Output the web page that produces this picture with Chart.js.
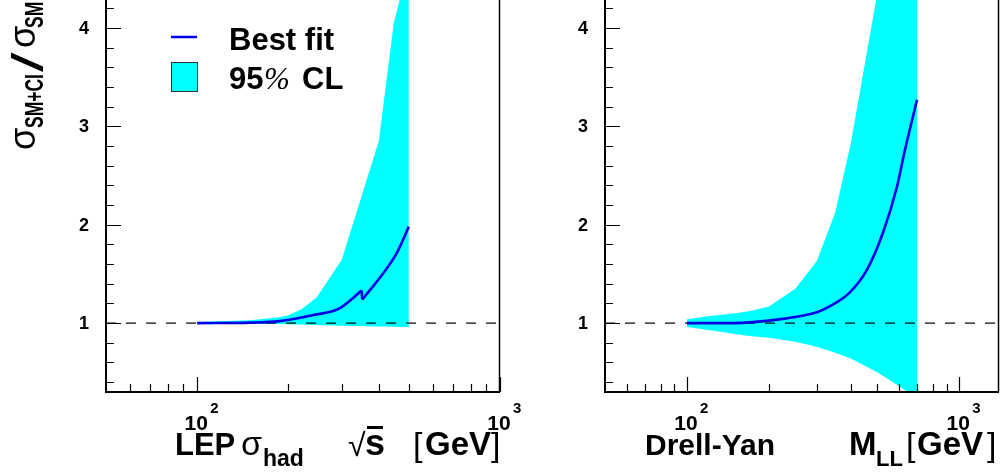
<!DOCTYPE html>
<html>
<head>
<meta charset="UTF-8">
<title>sigma SM+CI / sigma SM</title>
<script src="https://cdn.jsdelivr.net/npm/chart.js@4.4.0/dist/chart.umd.min.js"></script>
<style>
    body, html { margin: 0; padding: 0; background: #fff; }
    .wrap { position: relative; width: 1002px; height: 472px; overflow: hidden; }
    .wrap canvas { position: absolute; left: 0; top: 0; }
</style>
</head>
<body>
<div class="wrap">
    <canvas id="lepChart" width="1002" height="472"></canvas>
    <canvas id="dyChart" width="1002" height="472"></canvas>
</div>
<script>
// ---- LEP panel ----
const lepFitX  = [100, 150, 187, 240, 295, 349, 351, 401, 456, 500];
const lepFitY  = [1.0, 1.005, 1.02, 1.08, 1.15, 1.33, 1.24, 1.46, 1.71, 1.98];
const lepKink = 6;   // best fit jumps down between index 5 and 6
const lepBandX  = [100, 150, 187, 200, 221, 248, 300, 398, 446, 500];
const lepBandHi = [1.01, 1.03, 1.06, 1.08, 1.14, 1.26, 1.64, 2.85, 4.05, 4.65];
const lepBandLo = [0.995, 0.993, 0.99, 0.988, 0.985, 0.98, 0.972, 0.966, 0.963, 0.96];

// ---- Drell-Yan panel ----
const dyFitX  = [100, 150, 200, 259, 300, 334, 396, 458, 525, 590, 632, 700];
const dyFitY  = [1.0, 1.0, 1.025, 1.07, 1.11, 1.17, 1.31, 1.54, 1.92, 2.38, 2.76, 3.27];
const dyBandX  = [100, 120, 150, 169, 200, 250, 300, 350, 400, 500, 600, 650, 700];
const dyBandHi = [1.04, 1.07, 1.10, 1.12, 1.17, 1.35, 1.63, 2.12, 2.83, 4.35, 6.0, 7.0, 8.0];
const dyBandLo = [0.96, 0.93, 0.89, 0.87, 0.85, 0.81, 0.76, 0.70, 0.64, 0.50, 0.36, 0.30, 0.22];

// axes
const yRange = [0.3, 4.283];
const yMajor = [1, 2, 3, 4];
const yMinorStep = 0.2;
const lepXRange = [50, 1000];
const dyXRange = [50, 1400];
const xMajor = [100, 1000];
const xMinor = [60, 70, 80, 90, 200, 300, 400, 500, 600, 700, 800, 900];
const xMajorExp = ['2', '3'];
const refLevel = 1;

const SANS = '"Liberation Sans", Arial, Helvetica, sans-serif';
const BAND = '#00ffff';
const FIT = '#0000e6';

function pts(xs, ys) { return xs.map((x, i) => ({ x: x, y: ys[i] })); }

// ROOT-like frame: inward ticks, axis lines, tick labels
const rootFrame = {
    id: 'rootFrame',
    afterDatasetsDraw(chart) {
        const ctx = chart.ctx;
        const a = chart.chartArea;
        const xs = chart.scales.x, ys = chart.scales.y;
        ctx.save();
        ctx.strokeStyle = '#000';
        ctx.lineWidth = 2;
        ctx.beginPath();
        ctx.moveTo(a.left, a.top); ctx.lineTo(a.left, a.bottom); ctx.lineTo(a.right, a.bottom);
        ctx.stroke();
        ctx.lineWidth = 1.5;
        ctx.beginPath();
        ctx.moveTo(a.right - 0.5, a.top); ctx.lineTo(a.right - 0.5, a.bottom);
        ctx.stroke();
        ctx.lineWidth = 1.2;
        ctx.beginPath();
        for (let v = 0.4; v < yRange[1]; v += yMinorStep) {
            const r = Math.round(v * 10) / 10;
            const len = yMajor.includes(r) ? 15 : 8;
            const py = Math.round(ys.getPixelForValue(r)) + 0.5;
            ctx.moveTo(a.left, py); ctx.lineTo(a.left + len, py);
        }
        xMinor.concat(xMajor).forEach(v => {
            if (v < xs.min || v > xs.max) return;
            const len = xMajor.includes(v) ? 15 : 8;
            const px = Math.round(xs.getPixelForValue(v)) + 0.5;
            ctx.moveTo(px, a.bottom); ctx.lineTo(px, a.bottom - len);
        });
        ctx.stroke();
        ctx.fillStyle = '#000';
        // y labels
        ctx.font = 'bold 18px ' + SANS;
        ctx.textAlign = 'right';
        ctx.textBaseline = 'middle';
        yMajor.forEach(v => ctx.fillText(String(v), a.left - 17, ys.getPixelForValue(v) + 1));
        // x labels 10^n
        ctx.textBaseline = 'alphabetic';
        xMajor.forEach((v, i) => {
            const px = xs.getPixelForValue(v);
            ctx.font = 'bold 21px ' + SANS;
            ctx.textAlign = 'center';
            ctx.fillText('10', px - 1, 430);
            ctx.font = 'bold 15px ' + SANS;
            ctx.textAlign = 'left';
            ctx.fillText(xMajorExp[i], px + 13, 413);
        });
        ctx.restore();
    }
};

// parts: text, font, x, y, optional horizontal squeeze
function drawText(ctx, parts) {
    parts.forEach(p => {
        ctx.save();
        ctx.font = p.f;
        ctx.translate(p.x, p.y);
        if (p.sx) ctx.scale(p.sx, 1);
        ctx.fillText(p.t, 0, 0);
        ctx.restore();
    });
}

const lepDecor = {
    id: 'lepDecor',
    afterDraw(chart) {
        const ctx = chart.ctx;
        ctx.save();
        ctx.fillStyle = '#000';
        ctx.textAlign = 'left';
        ctx.textBaseline = 'alphabetic';
        drawText(ctx, [
            { t: 'LEP', f: 'bold 31px ' + SANS, x: 175, y: 455 },
            { t: 'σ', f: '34px ' + SANS, x: 241, y: 455 },
            { t: 'had', f: 'bold 23px ' + SANS, x: 263, y: 466 },
            { t: '√', f: '32px ' + SANS, x: 348, y: 456 },
            { t: 's', f: 'bold 36px ' + SANS, x: 365, y: 455 },
            { t: '[', f: '34px ' + SANS, x: 413, y: 456 },
            { t: 'GeV', f: 'bold 33px ' + SANS, x: 425, y: 455 },
            { t: ']', f: '34px ' + SANS, x: 491, y: 456 }
        ]);
        ctx.fillRect(367, 426, 16, 3);
        // y title (rotated)
        ctx.save();
        ctx.translate(35, 150);
        ctx.rotate(-Math.PI / 2);
        drawText(ctx, [
            { t: 'σ', f: '36px ' + SANS, x: 0, y: 0 },
            { t: 'SM+CI', f: 'bold 25px ' + SANS, x: 22, y: 8, sx: 0.7 },
            { t: '/', f: '44px ' + SANS, x: 78, y: 8, sx: 1.6 },
            { t: 'σ', f: '36px ' + SANS, x: 102, y: 0 },
            { t: 'SM', f: 'bold 25px ' + SANS, x: 122, y: 8, sx: 0.7 }
        ]);
        ctx.restore();
        // legend
        ctx.strokeStyle = FIT;
        ctx.lineWidth = 2.5;
        ctx.beginPath(); ctx.moveTo(171, 37); ctx.lineTo(197, 37); ctx.stroke();
        ctx.fillStyle = BAND;
        ctx.fillRect(171, 62, 26, 29);
        ctx.strokeStyle = '#333';
        ctx.lineWidth = 1;
        ctx.strokeRect(171.5, 62.5, 26, 29);
        ctx.fillStyle = '#000';
        drawText(ctx, [
            { t: 'Best fit', f: 'bold 31px ' + SANS, x: 229, y: 50 },
            { t: '95', f: 'bold 31px ' + SANS, x: 229, y: 89 },
            { t: '%', f: 'italic 31px "Liberation Serif", serif', x: 264, y: 89 },
            { t: 'CL', f: 'bold 31px ' + SANS, x: 302, y: 89 }
        ]);
        ctx.restore();
    }
};

const dyDecor = {
    id: 'dyDecor',
    afterDraw(chart) {
        const ctx = chart.ctx;
        ctx.save();
        ctx.fillStyle = '#000';
        ctx.textAlign = 'left';
        drawText(ctx, [
            { t: 'Drell-Yan', f: 'bold 30px ' + SANS, x: 645, y: 455 },
            { t: 'M', f: 'bold 33px ' + SANS, x: 849, y: 455 },
            { t: 'LL', f: 'bold 22px ' + SANS, x: 876, y: 466 },
            { t: '[', f: '34px ' + SANS, x: 906, y: 456 },
            { t: 'GeV', f: 'bold 33px ' + SANS, x: 917, y: 455 },
            { t: ']', f: '34px ' + SANS, x: 987, y: 456 }
        ]);
        ctx.restore();
    }
};

function fitSet(data) {
    return { data: data, borderColor: FIT, borderWidth: 2.6, pointRadius: 0,
             cubicInterpolationMode: 'monotone', fill: false };
}

function makeChart(id, fitParts, bandX, bandHi, bandLo, xRange, pad, yWidth, decor) {
    const fits = fitParts.map(fitSet);
    const n = fits.length;
    return new Chart(document.getElementById(id), {
        type: 'line',
        data: {
            datasets: fits.concat([
                { data: pts(xRange, [refLevel, refLevel]), borderColor: '#000', borderWidth: 1.2,
                  borderDash: [10, 10], pointRadius: 0, fill: false },
                { data: pts(bandX, bandHi), borderWidth: 0, borderColor: BAND, backgroundColor: BAND,
                  pointRadius: 0, fill: n + 2 },
                { data: pts(bandX, bandLo), borderWidth: 0, borderColor: BAND, pointRadius: 0, fill: false }
            ])
        },
        options: {
            responsive: false,
            animation: false,
            layout: { padding: pad, autoPadding: false },
            plugins: { legend: { display: false }, tooltip: { enabled: false } },
            scales: {
                x: {
                    type: 'logarithmic', min: xRange[0], max: xRange[1],
                    grid: { display: false }, border: { display: false },
                    ticks: { display: false },
                    afterFit: s => { s.height = 80; }
                },
                y: {
                    min: yRange[0], max: yRange[1],
                    grid: { display: false }, border: { display: false },
                    ticks: { display: false },
                    afterFit: s => { s.width = yWidth; }
                }
            }
        },
        plugins: [rootFrame, decor]
    });
}

const lepAll = pts(lepFitX, lepFitY);
makeChart('lepChart',
    [lepAll.slice(0, lepKink), lepAll.slice(lepKink - 1, lepKink + 1), lepAll.slice(lepKink)],
    lepBandX, lepBandHi, lepBandLo, lepXRange,
    { left: 0, right: 502, top: 0, bottom: 0 }, 106, lepDecor);
makeChart('dyChart', [pts(dyFitX, dyFitY)], dyBandX, dyBandHi, dyBandLo, dyXRange,
    { left: 500, right: 3, top: 0, bottom: 0 }, 105, dyDecor);
</script>
</body>
</html>
